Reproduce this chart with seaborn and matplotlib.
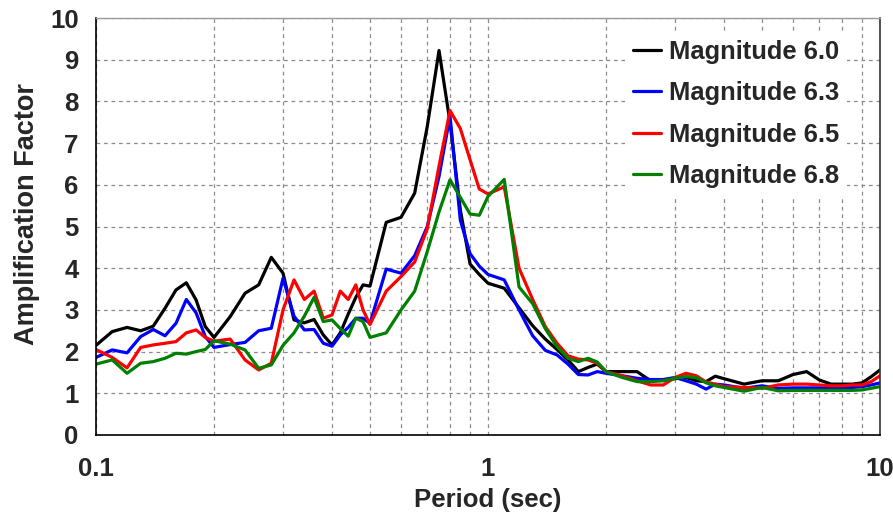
import numpy as np
import pandas as pd
import matplotlib
matplotlib.use("Agg")
import matplotlib.pyplot as plt
from matplotlib.ticker import LogLocator, FixedLocator, NullFormatter, FixedFormatter
import seaborn as sns

# Spectral periods (sec)
periods = [0.10, 0.11, 0.12, 0.13, 0.14, 0.15, 0.16, 0.17, 0.18, 0.19,
           0.20, 0.22, 0.24, 0.26, 0.28, 0.30, 0.32, 0.34, 0.36, 0.38,
           0.40, 0.42, 0.44, 0.46, 0.48, 0.50, 0.55, 0.60, 0.65, 0.70,
           0.75, 0.80, 0.85, 0.90, 0.95, 1.0, 1.1, 1.2, 1.3, 1.4,
           1.5, 1.6, 1.7, 1.8, 1.9, 2.0, 2.2, 2.4, 2.6, 2.8,
           3.0, 3.2, 3.4, 3.6, 3.8, 4.0, 4.5, 5.0, 5.5, 6.0,
           6.5, 7.0, 7.5, 8.0, 8.5, 9.0, 9.5, 10.0]

amp_m60 = [2.15, 2.48, 2.58, 2.50, 2.61, 3.04, 3.48, 3.65, 3.24, 2.60,
           2.34, 2.84, 3.40, 3.60, 4.26, 3.88, 2.76, 2.69, 2.77, 2.40,
           2.16, 2.45, 2.90, 3.30, 3.60, 3.57, 5.10, 5.22, 5.80, 7.40,
           9.22, 7.50, 5.40, 4.10, 3.85, 3.64, 3.52, 3.05, 2.62, 2.30,
           2.05, 1.80, 1.52, 1.62, 1.70, 1.52, 1.52, 1.52, 1.30, 1.32,
           1.35, 1.38, 1.30, 1.28, 1.41, 1.35, 1.22, 1.30, 1.30, 1.45,
           1.52, 1.32, 1.22, 1.22, 1.22, 1.25, 1.40, 1.56]

amp_m63 = [1.86, 2.04, 1.97, 2.36, 2.53, 2.38, 2.68, 3.25, 2.93, 2.36,
           2.10, 2.17, 2.22, 2.50, 2.56, 3.76, 2.85, 2.52, 2.53, 2.20,
           2.13, 2.40, 2.58, 2.80, 2.80, 2.68, 3.98, 3.88, 4.30, 5.00,
           6.20, 7.65, 5.15, 4.35, 4.05, 3.85, 3.72, 3.00, 2.38, 2.03,
           1.92, 1.70, 1.45, 1.44, 1.52, 1.48, 1.42, 1.36, 1.33, 1.33,
           1.38, 1.30, 1.22, 1.10, 1.22, 1.20, 1.12, 1.18, 1.12, 1.13,
           1.13, 1.13, 1.12, 1.12, 1.14, 1.16, 1.20, 1.25]

amp_m65 = [2.05, 1.86, 1.61, 2.10, 2.16, 2.20, 2.24, 2.45, 2.52, 2.34,
           2.25, 2.30, 1.80, 1.56, 1.72, 3.00, 3.72, 3.25, 3.45, 2.80,
           2.88, 3.45, 3.25, 3.60, 3.00, 2.65, 3.45, 3.80, 4.15, 4.95,
           6.45, 7.78, 7.35, 6.60, 5.90, 5.78, 5.95, 4.00, 3.25, 2.60,
           2.20, 1.90, 1.82, 1.80, 1.72, 1.52, 1.42, 1.30, 1.20, 1.20,
           1.38, 1.48, 1.42, 1.27, 1.22, 1.16, 1.14, 1.12, 1.20, 1.22,
           1.22, 1.20, 1.18, 1.18, 1.20, 1.20, 1.28, 1.42]

amp_m68 = [1.70, 1.80, 1.48, 1.72, 1.76, 1.84, 1.96, 1.94, 2.00, 2.05,
           2.26, 2.18, 2.04, 1.60, 1.68, 2.15, 2.45, 2.85, 3.30, 2.72,
           2.76, 2.55, 2.37, 2.80, 2.72, 2.34, 2.45, 3.00, 3.45, 4.40,
           5.35, 6.12, 5.70, 5.30, 5.27, 5.72, 6.13, 3.55, 3.15, 2.55,
           2.12, 1.84, 1.76, 1.84, 1.75, 1.52, 1.38, 1.28, 1.28, 1.30,
           1.36, 1.40, 1.38, 1.25, 1.18, 1.14, 1.05, 1.14, 1.06, 1.07,
           1.07, 1.07, 1.07, 1.07, 1.07, 1.08, 1.12, 1.16]

series_names = ["Magnitude 6.0", "Magnitude 6.3", "Magnitude 6.5", "Magnitude 6.8"]
series_colors = ["#000000", "#0000FF", "#FF0000", "#008000"]

x_tick_values = [0.1, 1, 10]
x_tick_labels = ["0.1", "1", "10"]
y_tick_values = list(range(0, 11))

df = pd.concat([
    pd.DataFrame({"Period": periods, "Amplification": vals, "Magnitude": name})
    for name, vals in zip(series_names, [amp_m60, amp_m63, amp_m65, amp_m68])
], ignore_index=True)

sns.set_style("white")
plt.rcParams["font.family"] = ["Liberation Sans", "DejaVu Sans"]
plt.rcParams["font.weight"] = "bold"

fig = plt.figure(figsize=(8.93, 5.18), dpi=100)
ax = fig.add_axes([96 / 893, 1 - 435 / 518, (880 - 96) / 893, (435 - 18) / 518])

sns.lineplot(data=df, x="Period", y="Amplification", hue="Magnitude",
             hue_order=series_names, palette=series_colors,
             linewidth=2.3, ax=ax, sort=False, estimator=None)

ax.set_xscale("log")
ax.set_xlim(0.1, 10)
ax.set_ylim(0, 10)

# Ticks: majors only at decades on x, integers on y
ax.xaxis.set_major_locator(FixedLocator(x_tick_values))
ax.xaxis.set_major_formatter(FixedFormatter(x_tick_labels))
ax.xaxis.set_minor_locator(LogLocator(base=10, subs=np.arange(2, 10)))
ax.xaxis.set_minor_formatter(NullFormatter())
ax.yaxis.set_major_locator(FixedLocator(y_tick_values))

ax.tick_params(axis="both", which="major", direction="inout", length=9,
               width=1.0, color="black", labelsize=18.5)
ax.tick_params(axis="x", which="major", pad=11)
ax.tick_params(axis="y", which="major", pad=8)
ax.tick_params(axis="x", which="minor", length=0)
for lbl in ax.get_xticklabels() + ax.get_yticklabels():
    lbl.set_fontweight("bold")

ax.grid(True, which="major", axis="y", linestyle=(0, (3, 3)), color="#8c8c8c", linewidth=0.9)
ax.grid(True, which="both", axis="x", linestyle=(0, (3, 3)), color="#8c8c8c", linewidth=0.9)
ax.set_axisbelow(True)

for side in ["left", "bottom"]:
    ax.spines[side].set_color("black")
    ax.spines[side].set_linewidth(1.2)
ax.spines["right"].set_color("#333333")
ax.spines["right"].set_linewidth(1.2)
ax.spines["top"].set_color("#9a9a9a")
ax.spines["top"].set_linewidth(1.0)

ax.set_xlabel("Period (sec)", fontsize=18.5, fontweight="bold")
ax.set_ylabel("Amplification Factor", fontsize=19.5, fontweight="bold")
ax.xaxis.set_label_coords(0.5, -0.128)
ax.yaxis.set_label_coords(-0.072, 0.531)

leg = ax.legend(loc="upper left", bbox_to_anchor=(0.675, 0.966), borderaxespad=0,
                fontsize=18.4, frameon=True, facecolor="white", edgecolor="none",
                framealpha=1.0, handlelength=1.1, handletextpad=0.3,
                labelspacing=0.68, borderpad=0.3)
for txt in leg.get_texts():
    txt.set_fontweight("bold")
for line in leg.get_lines():
    line.set_linewidth(2.3)

fig.savefig("out.png", dpi=100, facecolor="white")
